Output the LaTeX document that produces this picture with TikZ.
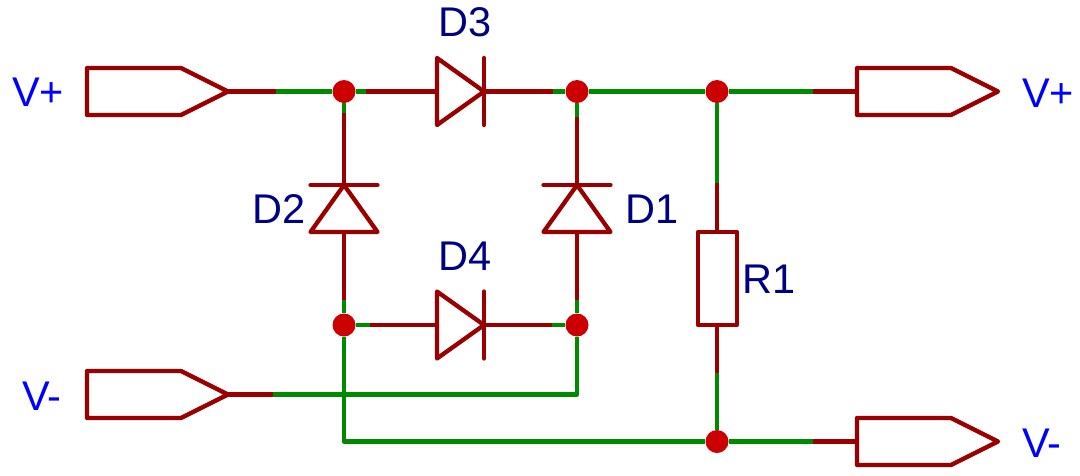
\documentclass[tikz,border=0pt]{standalone}
\usepackage{fontspec}
\setmainfont{Liberation Sans}
\usepackage{tikz}
\usetikzlibrary{calc}

\definecolor{pincol}{HTML}{990000}
\definecolor{wirecol}{HTML}{008A00}
\definecolor{dotcol}{HTML}{CC0000}
\definecolor{refcol}{HTML}{000084}
\definecolor{netcol}{HTML}{0000FF}

\tikzset{
	pin/.style={draw=pincol, line width=4.3pt},
	part/.style={pin, line cap=round, line join=round},
	wire/.style={draw=wirecol, line width=4.3pt, line join=round},
	junct/.style={circle, fill=dotcol, inner sep=0pt, minimum size=23pt},
	reflabel/.style={anchor=base west, inner sep=0pt, text=refcol, font=\fontsize{41.5}{48}\selectfont},
	netlabel/.style={anchor=base west, inner sep=0pt, text=netcol, font=\fontsize{41.5}{48}\selectfont}
}

\begin{document}
\begin{tikzpicture}[x=1pt,y=-1pt]
	\useasboundingbox (0,0) rectangle (1080,475);
	% junctions
	\node[junct] (j1) at (344,91.5) {};
	\node[junct] (j2) at (577,91.5) {};
	\node[junct] (j3) at (717,91.5) {};
	\node[junct] (j4) at (344,325) {};
	\node[junct] (j5) at (577,325) {};
	\node[junct] (j6) at (717,441.5) {};
	% ports
	\foreach \n/\x/\y in {pa/87/91.5, pb/87/394.5, pc/857/91.5, pd/857/441.5} {
		\draw[part] (\x,\y) ++(0,-23.5) -- ++(94,0) -- ++(47,23.5) -- ++(-47,23.5) -- ++(-94,0) -- cycle;
		\coordinate (\n in) at (\x,\y);
		\coordinate (\n tip) at (\x+141,\y);
	}
	% diodes
	\foreach \n/\x/\y in {d3/437/91.5, d4/437/325} {
		\draw[part] (\x,\y-33.5) -- (\x+47,\y) -- (\x,\y+33.5) -- cycle;
		\draw[part] (\x+47,\y-33.5) -- (\x+47,\y+33.5);
		\coordinate (\n a) at (\x,\y);
		\coordinate (\n k) at (\x+47,\y);
	}
	\foreach \n/\x in {d2/344, d1/577} {
		\draw[part] (\x,185) -- (\x+33.5,232) -- (\x-33.5,232) -- cycle;
		\draw[part] (\x-33.5,185) -- (\x+33.5,185);
		\coordinate (\n a) at (\x,232);
		\coordinate (\n k) at (\x,185);
	}
	% resistor
	\draw[part] (698,232) rectangle (737,325);
	\coordinate (r1t) at (717,232);
	\coordinate (r1b) at (717,325);
	% where the colour changes
	\coordinate (c1) at (276,91.5);
	\coordinate (c2) at (366,91.5);
	\coordinate (c3) at (553,91.5);
	\coordinate (c4) at (344,113);
	\coordinate (c5) at (577,117);
	\coordinate (c6) at (717,183);
	\coordinate (c7) at (813,91.5);
	\coordinate (c8) at (344,300);
	\coordinate (c9) at (577,300);
	\coordinate (c10) at (370,325);
	\coordinate (c11) at (552,325);
	\coordinate (c12) at (717,373);
	\coordinate (c13) at (273,394.5);
	\coordinate (c14) at (813,441.5);
	% green wires
	\draw[wire] (c1) -- (j1);
	\draw[wire] (j1) -- (c2);
	\draw[wire] (c3) -- (j2);
	\draw[wire] (j2) -- (j3);
	\draw[wire] (j3) -- (c7);
	\draw[wire] (j1) -- (c4);
	\draw[wire] (j2) -- (c5);
	\draw[wire] (j3) -- (c6);
	\draw[wire] (c8) -- (j4);
	\draw[wire] (c9) -- (j5);
	\draw[wire] (j4) -- (c10);
	\draw[wire] (c11) -- (j5);
	\draw[wire] (c12) -- (j6);
	\draw[wire] (j6) -- (c14);
	\draw[wire] (j5) |- (c13);
	\draw[wire] (j4) |- (j6);
	% pin stubs
	\draw[pin] (patip) -- (c1);
	\draw[pin] (c2) -- (d3a);
	\draw[pin] (d3k) -- (c3);
	\draw[pin] (c7) -- (pcin);
	\draw[pin] (c4) -- (d2k);
	\draw[pin] (c5) -- (d1k);
	\draw[pin] (d2a) -- (c8);
	\draw[pin] (d1a) -- (c9);
	\draw[pin] (c10) -- (d4a);
	\draw[pin] (d4k) -- (c11);
	\draw[pin] (c6) -- (r1t);
	\draw[pin] (r1b) -- (c12);
	\draw[pin] (pbtip) -- (c13);
	\draw[pin] (c14) -- (pdin);
	% labels
	\node[netlabel] (vpa) at (12,106) {V+};
	\node[netlabel] (vma) at (22,410) {V-};
	\node[netlabel] (vpb) at (1022,107) {V+};
	\node[netlabel] (vmb) at (1022,457) {V-};
	\node[reflabel] (lab3) at (438.5,36) {D3};
	\node[reflabel] (lab2) at (252,223) {D2};
	\node[reflabel] (lab1) at (625,223) {D1};
	\node[reflabel] (lab4) at (438.5,270) {D4};
	\node[reflabel] (labr) at (742,293) {R1};
\end{tikzpicture}
\end{document}
